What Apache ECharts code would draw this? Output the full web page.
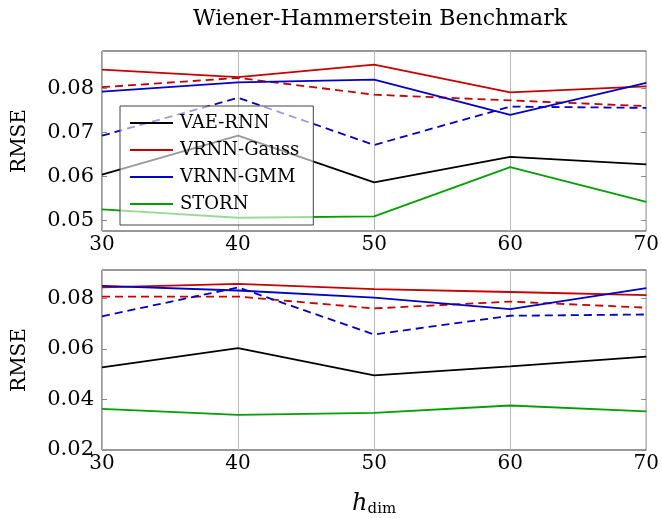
<!DOCTYPE html>
<html>
<head>
<meta charset="utf-8">
<script src="https://cdn.jsdelivr.net/npm/echarts@6/dist/echarts.min.js"></script>
<style>html,body{margin:0;padding:0;background:#fff}#c{width:662px;height:518px}</style>
</head>
<body>
<div id="c"></div>
<script>
const hdim = [30, 40, 50, 60, 70];
const xTicks = [30, 40, 50, 60, 70];
const legendNames = ['VAE-RNN', 'VRNN-Gauss', 'VRNN-GMM', 'STORN'];

// upper panel
const topVaeRnn = [0.0604, 0.0692, 0.0586, 0.0644, 0.0627];
const topVrnnGauss = [0.0842, 0.0825, 0.0853, 0.0790, 0.0804];
const topVrnnGaussDashed = [0.0802, 0.0823, 0.0785, 0.0772, 0.0759];
const topVrnnGmm = [0.0792, 0.0813, 0.0819, 0.0739, 0.0812];
const topVrnnGmmDashed = [0.0692, 0.0778, 0.0671, 0.0758, 0.0755];
const topStorn = [0.0525, 0.0506, 0.0509, 0.0621, 0.0542];
const topYTicks = [0.05, 0.06, 0.07, 0.08];

// lower panel
const botVaeRnn = [0.0527, 0.0603, 0.0495, 0.0531, 0.0569];
const botVrnnGauss = [0.0843, 0.0857, 0.0836, 0.0825, 0.0813];
const botVrnnGaussDashed = [0.0807, 0.0807, 0.0760, 0.0787, 0.0763];
const botVrnnGmm = [0.0849, 0.0831, 0.0803, 0.0757, 0.0840];
const botVrnnGmmDashed = [0.0729, 0.0843, 0.0657, 0.0731, 0.0736];
const botStorn = [0.0363, 0.0339, 0.0347, 0.0376, 0.0353];
const botYTicks = [0.02, 0.04, 0.06, 0.08];

const FONT = 'DejaVu Serif';
const C = {black: '#000000', red: '#c80000', blue: '#0000c8', green: '#00a000'};

function pts(ys) { return hdim.map((x, i) => [x, ys[i]]); }

function line(name, ys, color, dashed, gi) {
  return {
    type: 'line', name: name, xAxisIndex: gi, yAxisIndex: gi * 2,
    data: pts(ys), symbol: 'none', animation: false,
    lineStyle: {color: color, width: 1.8, type: dashed ? [8, 5] : 'solid'},
    itemStyle: {color: color}
  };
}

function xAx(gi, showName) {
  const o = {
    type: 'value', gridIndex: gi, min: 30, max: 70, interval: 10,
    axisLine: {show: false}, axisTick: {show: false},
    axisLabel: {fontFamily: FONT, fontSize: 20, color: '#000', margin: 4,
      customValues: xTicks},
    splitLine: {show: true, lineStyle: {color: '#b8b8b8', width: 1}}
  };
  if (showName) {
    o.name = '{i|h}{s|dim}';
    o.nameLocation = 'middle';
    o.nameGap = 40;
    o.nameTextStyle = {rich: {
      i: {fontFamily: FONT, fontStyle: 'italic', fontSize: 24, color: '#000'},
      s: {fontFamily: FONT, fontSize: 15, color: '#000', padding: [12, 0, 0, 0]}
    }};
  }
  return o;
}

function yAx(gi, min, max, ticks) {
  return [{
    type: 'value', gridIndex: gi, min: min, max: max, position: 'left',
    axisLine: {show: false},
    axisTick: {show: true, inside: true, length: 5, lineStyle: {color: '#888'}, customValues: ticks},
    axisLabel: {fontFamily: FONT, fontSize: 21, color: '#000', margin: 8,
      customValues: ticks, formatter: v => v.toFixed(2)},
    splitLine: {show: false},
    name: 'RMSE', nameLocation: 'middle', nameGap: 72, nameRotate: 90,
    nameTextStyle: {fontFamily: FONT, fontSize: 20, color: '#000'}
  }, {
    type: 'value', gridIndex: gi, min: min, max: max, position: 'right',
    axisLine: {show: false},
    axisTick: {show: true, inside: true, length: 5, lineStyle: {color: '#888'}, customValues: ticks},
    axisLabel: {show: false}, splitLine: {show: false}
  }];
}

const chart = echarts.init(document.getElementById('c'), null, {renderer: 'canvas'});
chart.setOption({
  animation: false,
  backgroundColor: '#fff',
  title: {text: 'Wiener-Hammerstein Benchmark', left: 375, top: 3, textAlign: 'center',
    textStyle: {fontFamily: FONT, fontSize: 22, fontWeight: 'normal', color: '#000'}},
  grid: [
    {left: 102, right: 14, top: 51, height: 180, show: true, borderColor: '#333', borderWidth: 1, backgroundColor: 'transparent'},
    {left: 102, right: 14, top: 270, height: 180, show: true, borderColor: '#333', borderWidth: 1, backgroundColor: 'transparent'}
  ],
  legend: {
    data: legendNames, orient: 'vertical', left: 120, top: 106,
    icon: 'rect', itemWidth: 43, itemHeight: 2, itemGap: 9,
    padding: [8, 14, 12, 10],
    backgroundColor: 'rgba(255,255,255,0.6)', borderColor: '#444', borderWidth: 1,
    textStyle: {fontFamily: FONT, fontSize: 18, color: '#000', padding: [0, 0, 0, 2]},
    selectedMode: false
  },
  xAxis: [xAx(0, false), xAx(1, true)],
  yAxis: [].concat(yAx(0, 0.0476, 0.0884, topYTicks), yAx(1, 0.02, 0.0912, botYTicks)),
  series: [
    line('VAE-RNN', topVaeRnn, C.black, false, 0),
    line('VRNN-Gauss', topVrnnGauss, C.red, false, 0),
    line('VRNN-Gauss dashed', topVrnnGaussDashed, C.red, true, 0),
    line('VRNN-GMM', topVrnnGmm, C.blue, false, 0),
    line('VRNN-GMM dashed', topVrnnGmmDashed, C.blue, true, 0),
    line('STORN', topStorn, C.green, false, 0),
    line('VAE-RNN', botVaeRnn, C.black, false, 1),
    line('VRNN-Gauss', botVrnnGauss, C.red, false, 1),
    line('VRNN-Gauss dashed', botVrnnGaussDashed, C.red, true, 1),
    line('VRNN-GMM', botVrnnGmm, C.blue, false, 1),
    line('VRNN-GMM dashed', botVrnnGmmDashed, C.blue, true, 1),
    line('STORN', botStorn, C.green, false, 1)
  ]
});
</script>
</body>
</html>
